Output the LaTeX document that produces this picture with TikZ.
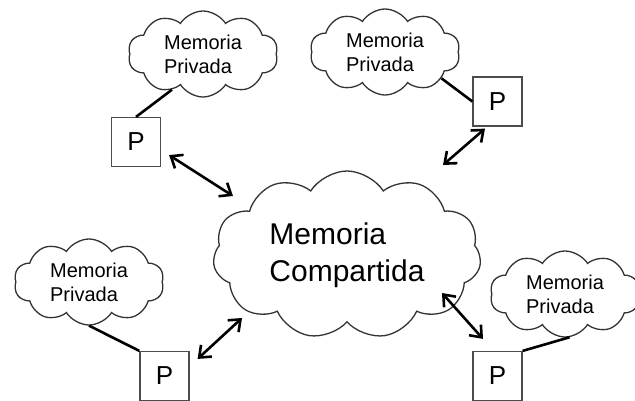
\documentclass[tikz,border=0pt]{standalone}
\usepackage{fontspec}
\setmainfont{Liberation Sans}
\usetikzlibrary{shapes.symbols,arrows.meta}

\tikzset{
  memcloud/.style={cloud, draw=black!80, line width=1.3pt, fill=white,
    cloud puffs=10, cloud puff arc=115, cloud ignores aspect,
    inner sep=0pt, align=left, text=black},
  privada/.style={memcloud, minimum width=150, minimum height=86,
    font=\fontsize{20}{24}\selectfont},
  compartida/.style={memcloud, cloud puffs=11, minimum width=268, minimum height=168,
    font=\fontsize{30}{37}\selectfont},
  proc/.style={draw=black!70, line width=1.2pt, fill=white,
    minimum width=49, minimum height=49, inner sep=0pt,
    font=\fontsize{26}{26}\selectfont},
  link/.style={line width=2.6pt, black},
  barb/.tip={Straight Barb[length=10pt,width=16pt,line width=2.6pt]},
  access/.style={line width=2.6pt, black, barb-barb}
}

\begin{document}
\begin{tikzpicture}[x=1pt,y=-1pt]
  \useasboundingbox (0,0) rectangle (635,400);
  \clip (0,0) rectangle (635,400);

  % shared memory
  \node[compartida] (mc) at (347,255) {Memoria\\Compartida};

  % private memories
  \node[privada] (m1) at (203,54) {Memoria\\Privada};
  \node[privada] (m2) at (385,52) {Memoria\\Privada};
  \node[privada] (m3) at (89,282) {Memoria\\Privada};
  \node[privada] (m4) at (565,294) {Memoria\\Privada};

  % processors
  \node[proc] (p1) at (136,142) {P};
  \node[proc] (p2) at (497.5,101.5) {P};
  \node[proc] (p3) at (164.5,376) {P};
  \node[proc] (p4) at (497.5,376) {P};

  % processor to private memory
  \draw[link] (p1.north) -- (m1.229);
  \draw[link] (p2.west) -- (m2.335);
  \draw[link] (p3.north west) -- (m3.south);
  \draw[link] (p4.north east) -- (m4.276);

  % processor to shared memory
  \draw[access] ([shift={(8,-12)}]p1.south east) -- ([shift={(-114,-59)}]mc.center);
  \draw[access] ([shift={(-12.5,2)}]p2.south) -- ([shift={(96,-90)}]mc.center);
  \draw[access] ([shift={(8,8)}]p3.north east) -- ([shift={(-105,63)}]mc.center);
  \draw[access] ([shift={(-14.5,-12)}]p4.north) -- ([shift={(95,38)}]mc.center);
\end{tikzpicture}
\end{document}
